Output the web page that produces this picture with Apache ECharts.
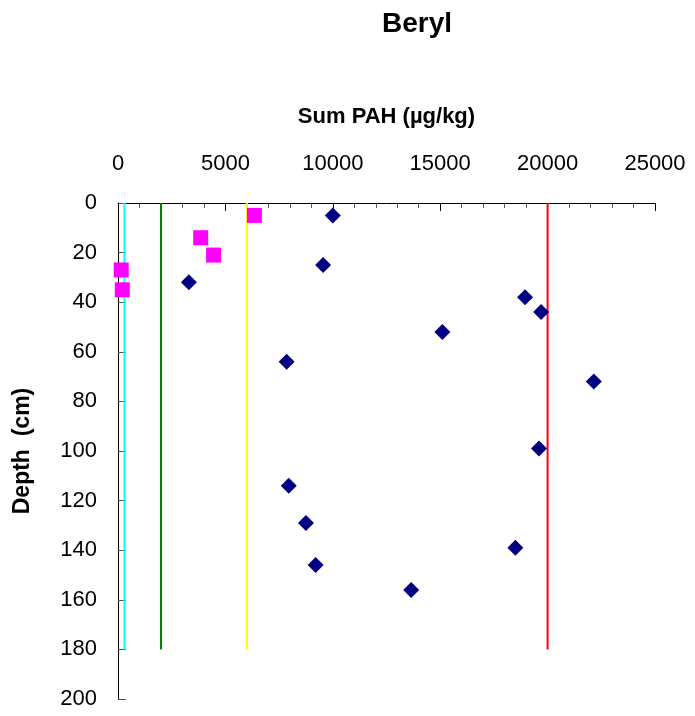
<!DOCTYPE html>
<html>
<head>
<meta charset="utf-8">
<script src="https://cdn.jsdelivr.net/npm/echarts@6/dist/echarts.min.js"></script>
<style>
  html, body { margin: 0; padding: 0; background: #fff; }
  #chart { width: 695px; height: 716px; }
</style>
</head>
<body>
<div id="chart"></div>
<script>
// Sum PAH (µg/kg) against core depth (cm), Beryl
var xTicks = [0, 5000, 10000, 15000, 20000, 25000];
var depthTicks = [0, 20, 40, 60, 80, 100, 120, 140, 160, 180, 200];

// Sample series 1 (navy diamonds): [Sum PAH, depth]
var sampleA = [
  [10000, 5], [9550, 25], [3300, 32], [18950, 38], [19700, 44],
  [15100, 52], [7850, 64], [22150, 72], [19600, 99], [7950, 114],
  [8750, 129], [18500, 139], [9200, 146], [13650, 156]
];

// Sample series 2 (magenta squares): [Sum PAH, depth]
var sampleB = [
  [6350, 5], [3850, 14], [4450, 21], [150, 27], [200, 35]
];

// Class limits drawn as vertical lines from 0 to 180 cm
var limitValues = [300, 2000, 6000, 20000];
var limitColors = ['#00FFFF', '#008000', '#FFFF00', '#FF0000'];
var limitDepth = [0, 180];

var font = 'Liberation Sans, Arial, sans-serif';

var limitSeries = limitValues.map(function (v, i) {
  return {
    type: 'line',
    data: limitDepth.map(function (d) { return [v, d]; }),
    symbol: 'none',
    lineStyle: { color: limitColors[i], width: 2 },
    silent: true,
    z: 1
  };
});

var chart = echarts.init(document.getElementById('chart'), null, { renderer: 'canvas' });
chart.setOption({
  animation: false,
  backgroundColor: '#ffffff',
  title: {
    text: 'Beryl',
    left: 412,
    top: 5,
    textAlign: 'center',
    textStyle: { fontFamily: font, fontSize: 28, fontWeight: 'bold', color: '#000' }
  },
  grid: { left: 118, top: 203, width: 537, height: 496, containLabel: false },
  xAxis: {
    type: 'value',
    position: 'top',
    min: 0,
    max: 25000,
    interval: 5000,
    name: 'Sum PAH (µg/kg)',
    nameLocation: 'middle',
    nameGap: 75,
    nameTextStyle: { fontFamily: font, fontSize: 22, fontWeight: 'bold', color: '#000' },
    axisLine: { show: true, onZero: false, lineStyle: { color: '#000', width: 1 } },
    axisTick: { show: true, inside: true, length: 8, lineStyle: { color: '#000' } },
    minorTick: { show: true, splitNumber: 5, length: 5, lineStyle: { color: '#555' } },
    axisLabel: {
      fontFamily: font, fontSize: 22, color: '#000', margin: 28,
      formatter: function (v) { return xTicks.indexOf(v) >= 0 ? String(v) : ''; }
    },
    splitLine: { show: false },
    minorSplitLine: { show: false }
  },
  yAxis: {
    type: 'value',
    inverse: true,
    min: 0,
    max: 200,
    interval: 20,
    name: 'Depth  (cm)',
    nameLocation: 'middle',
    nameGap: 84,
    nameRotate: 90,
    nameTextStyle: { fontFamily: font, fontSize: 23, fontWeight: 'bold', color: '#000' },
    axisLine: { show: true, onZero: false, lineStyle: { color: '#000', width: 1 } },
    axisTick: { show: true, inside: true, length: 8, lineStyle: { color: '#555' } },
    axisLabel: {
      fontFamily: font, fontSize: 22, color: '#000', margin: 21,
      formatter: function (v) { return depthTicks.indexOf(v) >= 0 ? String(v) : ''; }
    },
    splitLine: { show: false }
  },
  series: limitSeries.concat([
    {
      type: 'scatter',
      data: sampleB,
      symbol: 'rect',
      symbolSize: 15,
      itemStyle: { color: '#FF00FF', opacity: 1 },
      z: 3
    },
    {
      type: 'scatter',
      data: sampleA,
      symbol: 'diamond',
      symbolSize: 16,
      itemStyle: { color: '#000080', opacity: 1 },
      z: 4
    }
  ])
});
</script>
</body>
</html>
